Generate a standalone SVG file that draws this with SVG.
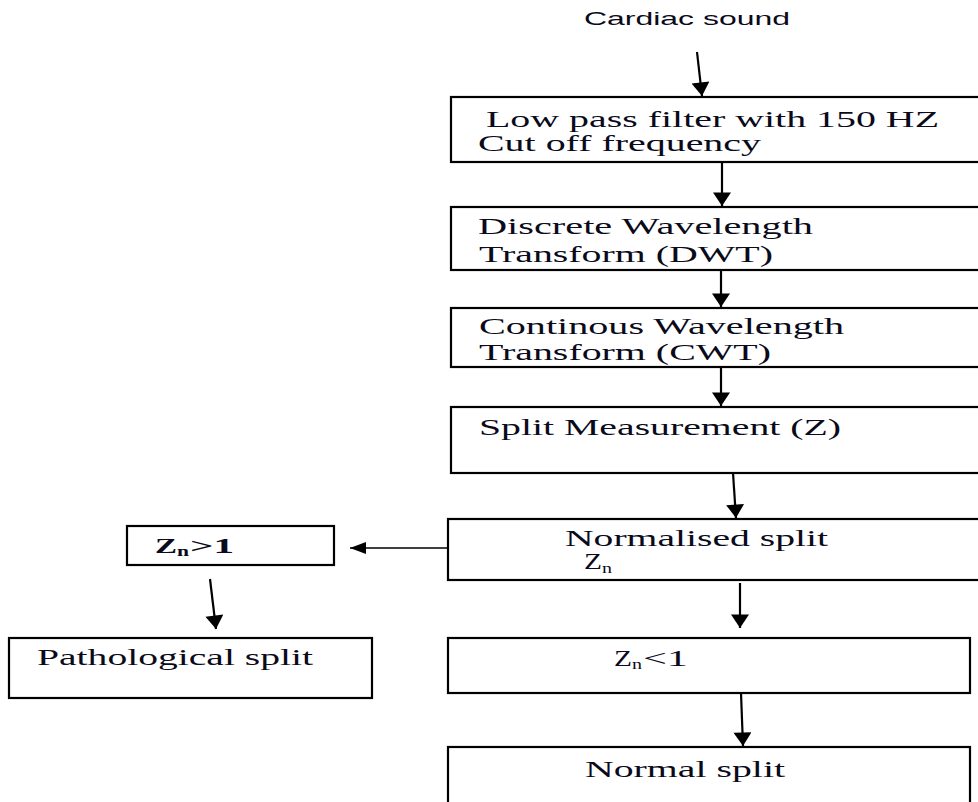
<svg xmlns="http://www.w3.org/2000/svg" width="978" height="802" viewBox="0 0 978 802">
<defs>
<style>
.box{fill:#fff;stroke:#000;stroke-width:2.2}
.t{font-family:"Liberation Serif","Times New Roman",serif;font-size:23px;fill:#0a0a1a}
.s{font-family:"Liberation Sans",Arial,sans-serif;font-size:19px;fill:#0a0a1a}
.b{font-family:"Liberation Serif","Times New Roman",serif;font-size:22px;font-weight:bold;fill:#0a0a1a}
.sub{font-family:"Liberation Serif","Times New Roman",serif;font-size:15px;fill:#0a0a1a}
.subb{font-family:"Liberation Serif","Times New Roman",serif;font-size:15px;font-weight:bold;fill:#0a0a1a}
.c{stroke:#000;stroke-width:2.2;fill:none;marker-end:url(#ah)}
.c2{stroke:#000;stroke-width:1.5;fill:none;marker-end:url(#ah2)}
</style>
<marker id="ah" markerUnits="userSpaceOnUse" markerWidth="18" markerHeight="18" viewBox="0 0 12 16" refX="12" refY="8" orient="auto"><path d="M0,0 L12,8 L0,16 Z" fill="#000"/></marker>
<marker id="ah2" markerUnits="userSpaceOnUse" markerWidth="16" markerHeight="12" viewBox="0 0 16 12" refX="16" refY="6" orient="auto"><path d="M0,0 L16,6 L0,12 Z" fill="#000"/></marker>
</defs>
<rect width="978" height="802" fill="#fff"/>

<g id="cardiac">
<text class="s" x="584" y="25" textLength="206" lengthAdjust="spacingAndGlyphs">Cardiac sound</text>
</g>

<g id="lowpass">
<rect class="box" x="451" y="97" width="540" height="65"/>
<text class="t" x="486" y="127" textLength="453" lengthAdjust="spacingAndGlyphs">Low pass filter with 150 HZ</text>
<text class="t" x="478" y="151" textLength="283" lengthAdjust="spacingAndGlyphs">Cut off frequency</text>
</g>

<g id="dwt">
<rect class="box" x="451" y="207" width="540" height="63"/>
<text class="t" x="478" y="234" textLength="335" lengthAdjust="spacingAndGlyphs">Discrete Wavelength</text>
<text class="t" x="479" y="262" textLength="294" lengthAdjust="spacingAndGlyphs">Transform (DWT)</text>
</g>

<g id="cwt">
<rect class="box" x="451" y="308" width="540" height="59"/>
<text class="t" x="479" y="334" textLength="365" lengthAdjust="spacingAndGlyphs">Continous Wavelength</text>
<text class="t" x="479" y="360" textLength="292" lengthAdjust="spacingAndGlyphs">Transform (CWT)</text>
</g>

<g id="splitmeas">
<rect class="box" x="451" y="407" width="540" height="66"/>
<text class="t" x="479" y="435" textLength="362" lengthAdjust="spacingAndGlyphs">Split Measurement (Z)</text>
</g>

<g id="normalised">
<rect class="box" x="448" y="519" width="540" height="61"/>
<text class="t" x="565" y="546" textLength="263" lengthAdjust="spacingAndGlyphs">Normalised split</text>
<text class="t" x="584" y="569" textLength="18" lengthAdjust="spacingAndGlyphs">Z</text>
<text class="sub" x="602" y="573" textLength="10" lengthAdjust="spacingAndGlyphs">n</text>
</g>

<g id="zgt1">
<rect class="box" x="127" y="526" width="207" height="39"/>
<text class="b" x="155" y="553" textLength="22" lengthAdjust="spacingAndGlyphs">Z</text>
<text class="subb" x="177" y="556" textLength="12" lengthAdjust="spacingAndGlyphs">n</text>
<text class="b" x="190" y="553" textLength="44" lengthAdjust="spacingAndGlyphs">&gt;1</text>
</g>

<g id="pathological">
<rect class="box" x="9" y="638" width="363" height="60"/>
<text class="t" x="37" y="665" textLength="276" lengthAdjust="spacingAndGlyphs">Pathological split</text>
</g>

<g id="zlt1">
<rect class="box" x="448" y="638" width="522" height="55"/>
<text class="t" x="614" y="666" textLength="18" lengthAdjust="spacingAndGlyphs">Z</text>
<text class="sub" x="632" y="669" textLength="10" lengthAdjust="spacingAndGlyphs">n</text>
<text class="t" x="643" y="666" textLength="45" lengthAdjust="spacingAndGlyphs">&lt;1</text>
</g>

<g id="normal">
<rect class="box" x="448" y="747" width="522" height="70"/>
<text class="t" x="585" y="777" textLength="200" lengthAdjust="spacingAndGlyphs">Normal split</text>
</g>

<g id="connectors">
<line class="c" x1="697" y1="52" x2="702" y2="96"/>
<line class="c" x1="722" y1="162" x2="722" y2="206"/>
<line class="c" x1="721" y1="270" x2="721" y2="307"/>
<line class="c" x1="721" y1="367" x2="721" y2="406"/>
<line class="c" x1="733" y1="473" x2="736" y2="518"/>
<line class="c2" x1="448" y1="548" x2="350" y2="548"/>
<line class="c" x1="210" y1="579" x2="216" y2="629"/>
<line class="c" x1="740" y1="583" x2="740" y2="628"/>
<line class="c" x1="741" y1="693" x2="743" y2="746"/>
</g>
</svg>
